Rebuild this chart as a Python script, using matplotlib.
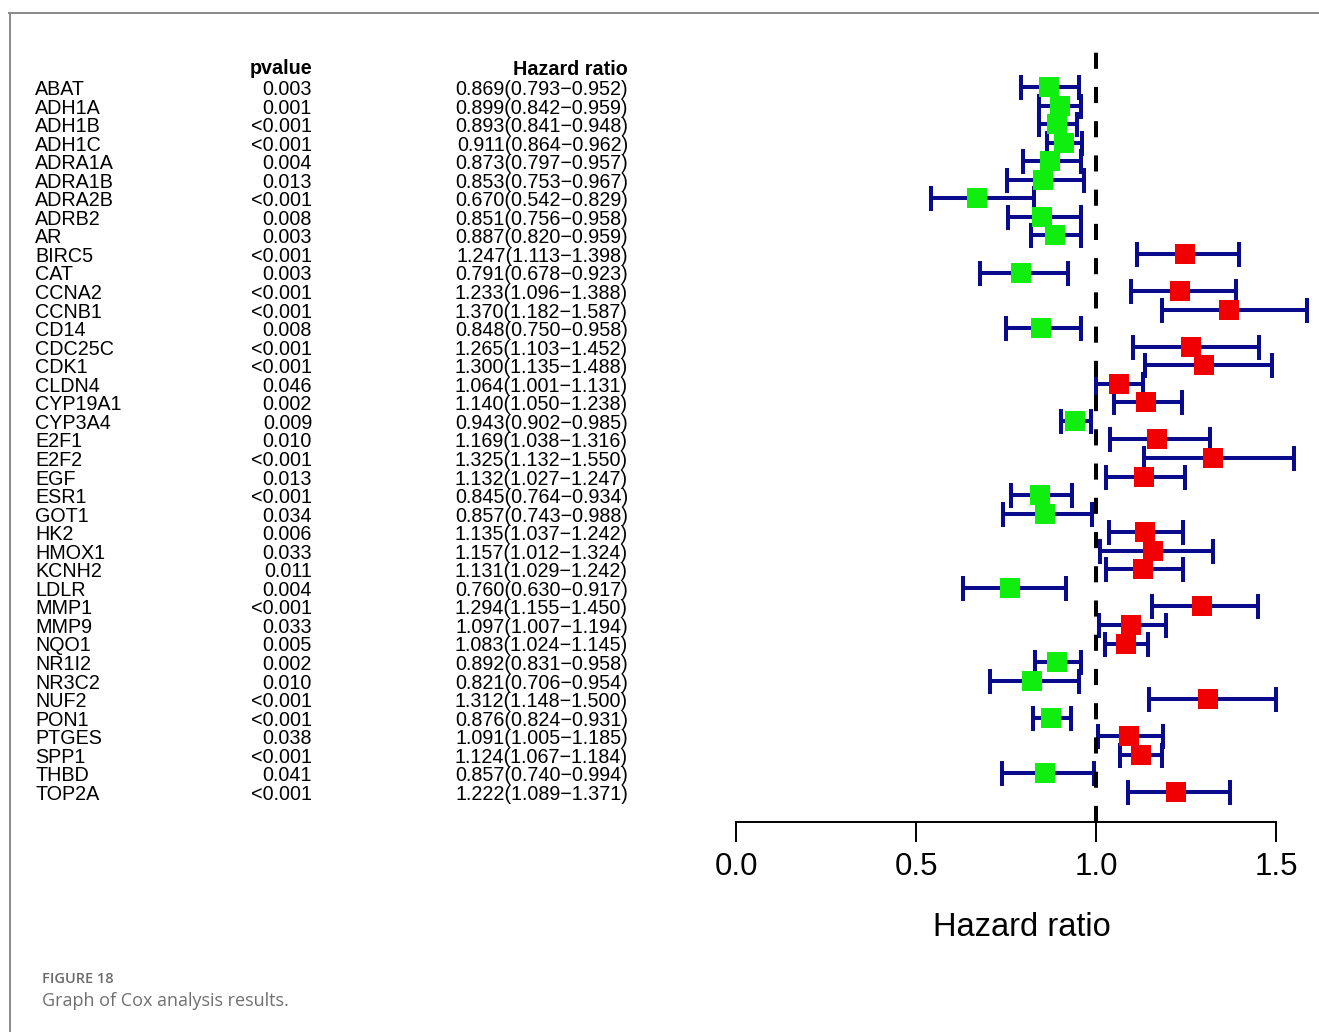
import numpy as np
import matplotlib
matplotlib.use('Agg')
import matplotlib.pyplot as plt
from matplotlib.lines import Line2D
from matplotlib.transforms import blended_transform_factory

plt.rcParams['font.family'] = ['Liberation Sans', 'DejaVu Sans']

# data
genes = ['ABAT', 'ADH1A', 'ADH1B', 'ADH1C', 'ADRA1A', 'ADRA1B', 'ADRA2B', 'ADRB2', 'AR', 'BIRC5',
         'CAT', 'CCNA2', 'CCNB1', 'CD14', 'CDC25C', 'CDK1', 'CLDN4', 'CYP19A1', 'CYP3A4', 'E2F1',
         'E2F2', 'EGF', 'ESR1', 'GOT1', 'HK2', 'HMOX1', 'KCNH2', 'LDLR', 'MMP1', 'MMP9',
         'NQO1', 'NR1I2', 'NR3C2', 'NUF2', 'PON1', 'PTGES', 'SPP1', 'THBD', 'TOP2A']
pvalues = ['0.003', '0.001', '<0.001', '<0.001', '0.004', '0.013', '<0.001', '0.008', '0.003', '<0.001',
           '0.003', '<0.001', '<0.001', '0.008', '<0.001', '<0.001', '0.046', '0.002', '0.009', '0.010',
           '<0.001', '0.013', '<0.001', '0.034', '0.006', '0.033', '0.011', '0.004', '<0.001', '0.033',
           '0.005', '0.002', '0.010', '<0.001', '<0.001', '0.038', '<0.001', '0.041', '<0.001']
hr = [0.869, 0.899, 0.893, 0.911, 0.873, 0.853, 0.670, 0.851, 0.887, 1.247,
      0.791, 1.233, 1.370, 0.848, 1.265, 1.300, 1.064, 1.140, 0.943, 1.169,
      1.325, 1.132, 0.845, 0.857, 1.135, 1.157, 1.131, 0.760, 1.294, 1.097,
      1.083, 0.892, 0.821, 1.312, 0.876, 1.091, 1.124, 0.857, 1.222]
hr_low = [0.793, 0.842, 0.841, 0.864, 0.797, 0.753, 0.542, 0.756, 0.820, 1.113,
          0.678, 1.096, 1.182, 0.750, 1.103, 1.135, 1.001, 1.050, 0.902, 1.038,
          1.132, 1.027, 0.764, 0.743, 1.037, 1.012, 1.029, 0.630, 1.155, 1.007,
          1.024, 0.831, 0.706, 1.148, 0.824, 1.005, 1.067, 0.740, 1.089]
hr_high = [0.952, 0.959, 0.948, 0.962, 0.957, 0.967, 0.829, 0.958, 0.959, 1.398,
           0.923, 1.388, 1.587, 0.958, 1.452, 1.488, 1.131, 1.238, 0.985, 1.316,
           1.550, 1.247, 0.934, 0.988, 1.242, 1.324, 1.242, 0.917, 1.450, 1.194,
           1.145, 0.958, 0.954, 1.500, 0.931, 1.185, 1.184, 0.994, 1.371]
xticks = [0.0, 0.5, 1.0, 1.5]

W, H = 1319, 1032
fig = plt.figure(figsize=(W / 100, H / 100), dpi=100)

n = len(genes)
rows = np.arange(n, 0, -1)
step = 18.55  # px between rows
y_bottom = n - (822 - 87) / step
y_top = n + (87 - 40) / step

ax = fig.add_axes([736 / W, 1 - 822 / H, 583 / W, 782 / H])
ax.set_xlim(0, 583 / 360)
ax.set_ylim(y_bottom, y_top)

hr_a, lo_a, hi_a = np.array(hr), np.array(hr_low), np.array(hr_high)

# confidence interval bars
ax.errorbar(hr_a, rows, xerr=[hr_a - lo_a, hi_a - hr_a], fmt='none', ecolor='#0a0a8c',
            elinewidth=2.9, capsize=9, capthick=2.9, clip_on=False, zorder=2)
for cl in ax.collections:
    cl.set_capstyle('round')

ax.vlines(1, y_bottom, n + 35 / step, colors='black', linestyles=(0, (4, 4.5)), linewidth=2.9, zorder=3)

colors = np.where(hr_a > 1, '#f00000', '#10ee10')
for x, y, c in zip(hr_a, rows, colors):
    ax.plot(x, y, 's', color=c, markersize=14.4, markeredgewidth=0, zorder=4, clip_on=False)

# axis
for s in ['top', 'right', 'left']:
    ax.spines[s].set_visible(False)
ax.spines['bottom'].set_bounds(0, 1.5)
ax.spines['bottom'].set_linewidth(1.4)
ax.set_yticks([])
ax.set_xticks(xticks)
ax.set_xticklabels(['%.1f' % t for t in xticks], fontsize=22.5)
ax.tick_params(axis='x', length=14.4, width=1.4, pad=7)
fig.text((1022) / W, 1 - 928 / H, 'Hazard ratio', fontsize=23.5, ha='center', va='center')

# table text
tr = blended_transform_factory(fig.transFigure, ax.transData)
base = 0.43
fsize = 14.2
fig.text(312 / W, n + (87 - 74.5) / step, 'pvalue', transform=tr, ha='right', va='baseline',
         fontsize=fsize, fontweight='bold')
fig.text(628 / W, n + (87 - 75) / step, 'Hazard ratio', transform=tr, ha='right', va='baseline',
         fontsize=fsize, fontweight='bold')
for g, p, h, l, u, y in zip(genes, pvalues, hr, hr_low, hr_high, rows):
    fig.text(35 / W, y - base, g, transform=tr, ha='left', va='baseline', fontsize=fsize)
    fig.text(312 / W, y - base, p, transform=tr, ha='right', va='baseline', fontsize=fsize)
    fig.text(628 / W, y - base, '%.3f(%.3f\u2212%.3f)' % (h, l, u), transform=tr,
             ha='right', va='baseline', fontsize=fsize)

# frame lines and caption
fig.add_artist(Line2D([9 / W, 1], [1 - 12.5 / H, 1 - 12.5 / H], color='#8a8a8a', linewidth=1.4))
fig.add_artist(Line2D([9.5 / W, 9.5 / W], [0, 1 - 12.5 / H], color='#8a8a8a', linewidth=1.4))
fig.text(42 / W, 1 - 979 / H, 'FIGURE 18', fontsize=10.5, fontweight='semibold', color='#6b6b6b',
         family='Open Sans', va='center')
fig.text(42 / W, 1 - 1001 / H, 'Graph of Cox analysis results.', fontsize=13, color='#707070',
         family='Open Sans', va='center')

fig.savefig('out.png', dpi=100)
